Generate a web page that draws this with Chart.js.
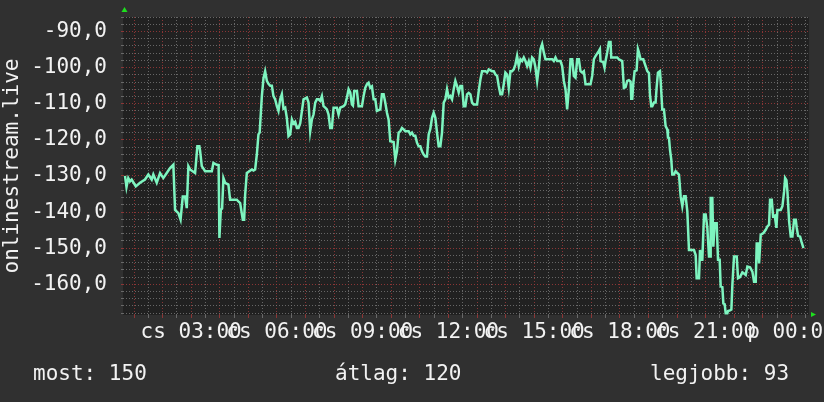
<!DOCTYPE html>
<html>
<head>
<meta charset="utf-8">
<script src="https://cdn.jsdelivr.net/npm/chart.js@4/dist/chart.umd.min.js"></script>
<style>
  html, body { margin: 0; padding: 0; background: #303030; }
</style>
</head>
<body>
<canvas id="rankChart" width="824" height="402"></canvas>
<script>
// time of day (hours since Thursday 00:00) and the rank at that moment (plotted negative)
const times = [
  0.685, 0.737, 0.800, 0.860, 0.919, 1.063, 1.210, 1.385, 1.501, 1.620,
  1.676, 1.795, 1.911, 2.026, 2.145, 2.261, 2.377, 2.436, 2.552, 2.629,
  2.706, 2.786, 2.846, 2.902, 2.961, 3.137, 3.217, 3.287, 3.312, 3.371,
  3.487, 3.722, 3.778, 3.897, 3.960, 3.988, 4.037, 4.082, 4.128, 4.187,
  4.303, 4.362, 4.597, 4.643, 4.713, 4.807, 4.853, 4.888, 4.947, 5.123,
  5.179, 5.238, 5.298, 5.354, 5.396, 5.473, 5.529, 5.588, 5.648, 5.704,
  5.764, 5.823, 5.879, 5.939, 5.998, 6.054, 6.114, 6.173, 6.229, 6.289,
  6.348, 6.405, 6.464, 6.524, 6.580, 6.639, 6.699, 6.755, 6.814,
  6.931, 7.048, 7.106, 7.165, 7.223, 7.281, 7.340, 7.398, 7.456, 7.515,
  7.573, 7.631, 7.690, 7.748, 7.806, 7.865, 7.923, 7.982, 8.098, 8.157,
  8.215, 8.332, 8.390, 8.449, 8.507, 8.565, 8.624, 8.659, 8.705, 8.799,
  8.857, 8.974, 9.032, 9.091, 9.149, 9.207, 9.266, 9.324, 9.383, 9.441,
  9.499, 9.616, 9.674, 9.733, 9.791, 9.850, 9.908, 9.966, 10.083, 10.141,
  10.200, 10.258, 10.317, 10.375, 10.433, 10.492, 10.608, 10.667, 10.725, 10.784,
  10.842, 10.900, 10.959, 11.017, 11.076, 11.134, 11.192, 11.251, 11.309, 11.367,
  11.426, 11.484, 11.543, 11.601, 11.659, 11.718, 11.776, 11.835, 11.893, 11.951,
  12.010, 12.068, 12.126, 12.185, 12.243, 12.302, 12.360, 12.418, 12.477, 12.535,
  12.593, 12.652, 12.710, 12.769, 12.827, 12.885, 13.002, 13.060, 13.119, 13.177,
  13.294, 13.352, 13.411, 13.527, 13.586, 13.644, 13.703, 13.761, 13.819, 13.878,
  13.936, 13.994, 14.053, 14.111, 14.170, 14.228, 14.286, 14.345, 14.403, 14.461,
  14.520, 14.578, 14.637, 14.695, 14.753, 14.812, 14.870, 14.928, 14.987, 15.045,
  15.104, 15.162, 15.220, 15.279, 15.337, 15.395, 15.629, 15.687, 15.746, 15.804,
  15.921, 15.979, 16.038, 16.096, 16.154, 16.213, 16.271, 16.330, 16.388, 16.446,
  16.505, 16.563, 16.621, 16.680, 16.738, 16.797, 16.972, 17.030, 17.088, 17.147,
  17.264, 17.299, 17.322, 17.415, 17.462, 17.497, 17.556, 17.614, 17.672, 17.696,
  17.906, 17.964, 18.081, 18.139, 18.198, 18.256, 18.314, 18.373, 18.396, 18.431,
  18.466, 18.513, 18.583, 18.630, 18.665, 18.723, 18.817, 18.898, 18.957, 19.015,
  19.050, 19.097, 19.132, 19.190, 19.248, 19.283, 19.330, 19.400, 19.424, 19.482,
  19.540, 19.599, 19.657, 19.681, 19.716, 19.751, 19.797, 19.832, 19.891, 19.949,
  20.008, 20.066, 20.124, 20.183, 20.241, 20.299, 20.358, 20.416, 20.591, 20.650,
  20.685, 20.767, 20.802, 20.848, 20.883, 20.942, 21.000, 21.058, 21.117, 21.152,
  21.175, 21.233, 21.268, 21.315, 21.385, 21.432, 21.490, 21.525, 21.584, 21.619,
  21.665, 21.700, 21.759, 21.782, 21.852, 21.899, 21.934, 21.992, 22.086, 22.132,
  22.202, 22.284, 22.343, 22.401, 22.459, 22.553, 22.634, 22.693, 22.751, 22.786,
  22.833, 22.868, 22.926, 23.020, 23.101, 23.160, 23.218, 23.253, 23.312, 23.358,
  23.417, 23.475, 23.510, 23.627, 23.685, 23.744, 23.779, 23.825, 23.860, 23.919,
  23.977, 24.035, 24.094, 24.152, 24.187, 24.234, 24.304, 24.351, 24.421
];
const ranks = [
  -130.0, -133.1, -130.6, -131.5, -131.0, -132.9, -131.9, -131.0, -129.6, -131.0,
  -129.6, -131.9, -129.2, -130.6, -129.2, -127.8, -126.9, -139.4, -140.3, -142.1,
  -135.7, -135.7, -138.9, -127.3, -128.2, -129.2, -121.8, -121.8, -123.0, -127.3,
  -128.7, -128.7, -126.4, -126.9, -127.0, -147.2, -139.4, -139.0, -130.6, -131.9,
  -132.4, -136.6, -136.6, -137.0, -137.5, -142.1, -142.1, -135.2, -129.2, -128.2,
  -128.5, -128.2, -124.0, -118.5, -118.0, -107.9, -103.0, -101.0, -103.7, -104.5,
  -105.0, -105.0, -107.9, -108.8, -110.7, -112.0, -108.8, -107.4, -111.4, -111.1,
  -114.0, -119.0, -118.5, -114.4, -115.5, -115.0, -116.7, -116.7, -115.5,
  -108.8, -108.3, -109.7, -117.6, -114.4, -113.0, -109.7, -108.8, -108.8, -109.2,
  -107.9, -110.7, -111.1, -111.6, -113.0, -116.7, -116.7, -111.1, -111.1, -113.0,
  -111.1, -110.7, -110.2, -108.3, -106.0, -106.9, -110.2, -110.5, -106.5, -106.5,
  -110.7, -110.7, -107.9, -105.6, -104.6, -104.2, -105.6, -105.2, -108.8, -108.8,
  -112.0, -111.6, -107.4, -107.4, -109.7, -112.5, -114.4, -120.4, -120.6, -125.5,
  -123.2, -118.0, -117.6, -116.7, -117.1, -117.6, -117.6, -118.5, -118.0, -118.9,
  -118.9, -120.8, -121.8, -121.8, -123.2, -124.1, -124.6, -124.6, -118.5, -117.0,
  -113.9, -112.5, -113.9, -118.0, -121.8, -121.8, -118.0, -109.7, -108.8, -106.0,
  -108.3, -107.9, -108.8, -106.0, -103.7, -105.1, -106.9, -105.1, -105.1, -110.7,
  -110.7, -107.4, -107.0, -107.4, -109.7, -110.2, -110.2, -106.5, -103.3, -101.0,
  -101.0, -101.4, -100.5, -101.0, -101.0, -101.9, -102.3, -105.1, -107.4, -107.4,
  -104.6, -101.4, -101.9, -105.6, -101.0, -101.0, -100.5, -99.1, -96.8, -99.6,
  -97.7, -98.2, -97.2, -98.2, -99.6, -98.2, -100.0, -97.2, -97.7, -100.0,
  -103.7, -100.0, -94.9, -93.5, -95.8, -97.7, -97.7, -98.2, -97.2, -98.2,
  -98.2, -99.6, -103.7, -106.0, -111.6, -106.0, -97.7, -97.7, -102.3, -102.8,
  -97.7, -97.7, -101.0, -101.4, -101.0, -104.6, -104.6, -102.3, -97.7, -96.8,
  -95.4, -94.9, -98.2, -98.5, -100.0, -98.2, -95.8, -92.9, -92.9, -97.2,
  -97.2, -97.7, -98.2, -105.6, -105.4, -103.7, -103.5, -103.9, -108.6, -108.6,
  -104.6, -101.0, -100.8, -94.9, -95.8, -97.7, -97.7, -99.6, -101.0, -101.5,
  -107.4, -110.7, -110.7, -109.7, -109.7, -105.6, -101.4, -101.0, -103.5, -111.6,
  -111.6, -116.2, -117.1, -119.4, -119.5, -122.7, -125.5, -129.6, -129.6, -128.7,
  -129.2, -129.6, -135.6, -138.4, -135.6, -135.6, -139.8, -150.5, -150.5, -151.9,
  -158.3, -158.3, -150.5, -153.2, -153.2, -140.7, -140.7, -144.4, -152.3, -152.3,
  -136.1, -136.1, -149.6, -143.1, -143.1, -153.2, -153.2, -160.6, -160.8, -165.3,
  -165.5, -168.0, -168.0, -167.4, -167.2, -167.0, -160.2, -152.3, -152.3, -158.3,
  -158.0, -156.7, -157.0, -157.4, -155.1, -155.3, -156.5, -159.3, -159.3, -148.7,
  -148.7, -154.2, -146.3, -145.8, -144.9, -144.0, -143.5, -136.6, -136.6, -141.2,
  -141.0, -144.4, -139.4, -139.4, -138.4, -134.3, -130.6, -131.2, -134.3, -142.6,
  -146.8, -146.8, -142.1, -142.1, -144.4, -146.6, -146.8, -148.2, -150.0
];

// axis labels
const labelHours = [3, 6, 9, 12, 15, 18, 21, 24];
const hourLabels = ['cs 03:00', 'cs 06:00', 'cs 09:00', 'cs 12:00', 'cs 15:00', 'cs 18:00', 'cs 21:00', 'p 00:00'];
const yLabelValues = [-90, -100, -110, -120, -130, -140, -150, -160];
const yLabels = ['-90,0', '-100,0', '-110,0', '-120,0', '-130,0', '-140,0', '-150,0', '-160,0'];
const axisTitle = 'onlinestream.live';
const legendTexts = ['most: 150', 'átlag: 120', 'legjobb: 93'];

const FONT = 'DejaVu Sans Mono';
const FSIZE = 21;
const TEXT = '#f2f2f2';
const MAJOR = 'rgba(150, 55, 55, 0.9)';
const MINOR = 'rgba(120, 120, 120, 0.8)';

const points = [];
for (let i = 0; i < Math.min(times.length, ranks.length); i++) {
  points.push({ x: times[i], y: ranks[i] });
}

const rrdDecor = {
  id: 'rrdDecor',
  beforeDraw(chart) {
    const c = chart.ctx, a = chart.chartArea;
    c.save();
    c.fillStyle = '#303030';
    c.fillRect(0, 0, chart.width, chart.height);
    c.fillStyle = '#212121';
    c.fillRect(a.left, a.top, a.right - a.left, a.bottom - a.top);
    c.restore();
  },
  afterDraw(chart) {
    const c = chart.ctx, a = chart.chartArea;
    c.save();
    // arrows at the ends of the axes
    c.fillStyle = '#1ee01e';
    c.beginPath();
    c.moveTo(a.left + 1.5, a.top - 10);
    c.lineTo(a.left - 1.5, a.top - 5);
    c.lineTo(a.left + 4.5, a.top - 5);
    c.closePath();
    c.fill();
    c.beginPath();
    c.moveTo(a.right + 2, a.bottom - 3);
    c.lineTo(a.right + 2, a.bottom + 2);
    c.lineTo(a.right + 7, a.bottom - 0.5);
    c.closePath();
    c.fill();
    // summary line
    c.fillStyle = TEXT;
    c.font = FSIZE + 'px "' + FONT + '"';
    c.textBaseline = 'alphabetic';
    c.fillText(legendTexts[0], 33, 380);
    c.fillText(legendTexts[1], 335, 380);
    c.fillText(legendTexts[2], 650, 380);
    c.restore();
  }
};

const ctx = document.getElementById('rankChart').getContext('2d');
const rankChart = new Chart(ctx, {
  type: 'line',
  data: {
    datasets: [{
      data: points,
      borderColor: '#7ef5c0',
      borderWidth: 2.5,
      pointRadius: 0,
      tension: 0,
      fill: false
    }]
  },
  options: {
    responsive: false,
    animation: false,
    layout: { padding: { top: 17, right: 15, left: 0, bottom: 0 } },
    plugins: {
      legend: { display: false },
      tooltip: { enabled: false }
    },
    scales: {
      x: {
        type: 'linear',
        min: 0.615,
        max: 24.615,
        afterBuildTicks(scale) {
          const t = [];
          for (let h = 1; h <= 24.5; h += 0.5) t.push({ value: h });
          scale.ticks = t;
        },
        afterFit(scale) {
          scale.height = 87;
          scale.paddingLeft = 0;
          scale.paddingRight = 0;
        },
        ticks: {
          autoSkip: false,
          maxRotation: 0,
          minRotation: 0,
          padding: 2,
          color: TEXT,
          font: { family: FONT, size: FSIZE },
          callback(value) {
            const i = labelHours.indexOf(value);
            return i < 0 ? '' : hourLabels[i];
          }
        },
        grid: {
          color: (c) => (c.tick && c.tick.value % 1 === 0 ? MAJOR : MINOR),
          tickLength: 3,
          lineWidth: 1
        },
        border: { display: false, dash: [1, 2] }
      },
      y: {
        type: 'linear',
        min: -168.5,
        max: -86,
        afterBuildTicks(scale) {
          const t = [];
          for (let v = -168; v <= -86; v += 2) t.push({ value: v });
          scale.ticks = t;
        },
        afterFit(scale) {
          scale.width = 123;
          scale.paddingTop = 0;
          scale.paddingBottom = 0;
        },
        ticks: {
          autoSkip: false,
          padding: 14,
          color: TEXT,
          font: { family: FONT, size: FSIZE },
          callback(value) {
            const i = yLabelValues.indexOf(value);
            return i < 0 ? '' : yLabels[i];
          }
        },
        grid: {
          color: (c) => (c.tick && c.tick.value % 10 === 0 ? MAJOR : MINOR),
          tickLength: 2,
          lineWidth: 1
        },
        border: { display: false, dash: [1, 2] },
        title: {
          display: true,
          text: axisTitle,
          color: TEXT,
          font: { family: FONT, size: FSIZE },
          padding: { top: 0, bottom: 0 }
        }
      }
    }
  },
  plugins: [rrdDecor]
});
</script>
</body>
</html>
